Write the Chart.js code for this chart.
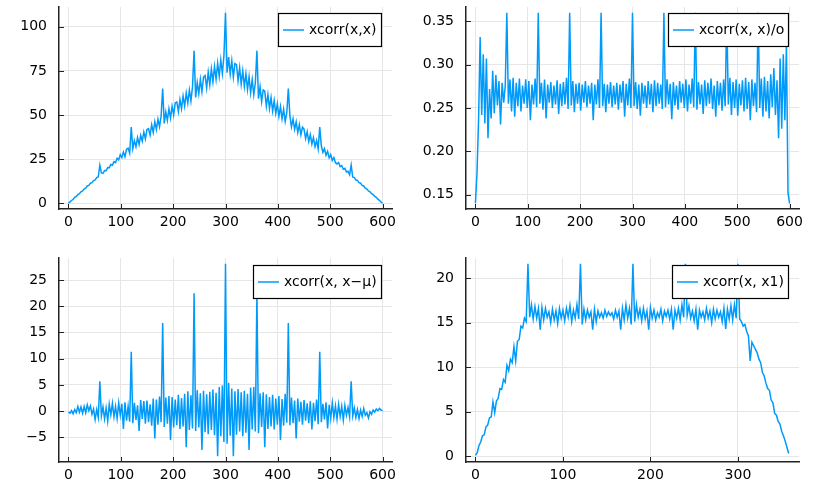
<!DOCTYPE html>
<html>
<head>
<meta charset="utf-8">
<script src="https://cdn.jsdelivr.net/npm/chart.js@4"></script>
<style>
  body { margin: 0; background: #fff; }
  #wrap { position: relative; width: 818px; height: 484px; }
  .panel { position: absolute; width: 409px; height: 242px; }
</style>
</head>
<body>
<div id="wrap">
  <div class="panel" style="left:0;top:0"><canvas id="c1" width="409" height="242"></canvas></div>
  <div class="panel" style="left:409px;top:0"><canvas id="c2" width="409" height="242"></canvas></div>
  <div class="panel" style="left:0;top:242px"><canvas id="c3" width="409" height="242"></canvas></div>
  <div class="panel" style="left:409px;top:242px"><canvas id="c4" width="409" height="242"></canvas></div>
</div>
<script>
// lags: 0..600 sampled every 3, and 0..358 every 2
const lags600 = Array.from({ length: 201 }, (_, i) => i * 3);
const lags360 = Array.from({ length: 180 }, (_, i) => i * 2);

const xcorrXX = [
  0, 0.8, 1.6, 2.3, 3.4, 3.9, 4.9, 5.4, 6.5, 7.0,
  8.1, 8.6, 9.8, 10.1, 11.4, 11.7, 12.9, 13.2, 14.6, 14.9,
  21.6, 17.2, 17.0, 18.6, 18.5, 20.2, 20.1, 22.0, 21.6, 23.6,
  23.0, 25.6, 24.6, 27.5, 25.9, 29.0, 26.4, 30.6, 31.2, 28.4,
  43.2, 31.0, 35.5, 32.1, 37.3, 33.4, 38.5, 35.2, 40.4, 36.5,
  41.8, 42.3, 38.6, 44.5, 40.2, 46.3, 41.8, 47.6, 43.4, 49.3,
  65.0, 45.3, 51.8, 47.0, 53.6, 48.3, 55.0, 50.1, 56.9, 57.4,
  52.0, 58.8, 53.6, 60.7, 55.1, 62.5, 56.8, 64.2, 58.0, 66.1,
  86.5, 60.0, 68.4, 62.1, 70.2, 63.3, 71.5, 72.4, 65.4, 74.3,
  67.2, 76.2, 68.9, 77.6, 70.3, 79.4, 72.0, 81.3, 73.5, 83.6,
  108.0, 74.0, 82.9, 73.2, 80.8, 71.5, 79.2, 78.6, 69.4, 76.8,
  67.5, 75.0, 66.2, 73.4, 64.5, 71.8, 62.6, 70.1, 61.5, 68.3,
  86.5, 59.3, 66.0, 57.6, 64.2, 63.5, 55.0, 61.6, 53.8, 59.9,
  52.3, 58.2, 51.0, 56.4, 49.2, 54.8, 47.9, 53.3, 46.4, 51.2,
  65.0, 49.4, 43.3, 47.8, 41.9, 46.2, 40.1, 44.6, 38.8, 43.1,
  42.0, 36.7, 40.6, 35.0, 38.9, 33.6, 37.2, 32.1, 35.6, 30.8,
  43.2, 32.6, 28.9, 31.0, 27.2, 29.4, 25.8, 27.6, 24.3, 25.9,
  23.0, 22.3, 23.1, 20.8, 21.4, 19.3, 19.8, 17.7, 18.1, 16.2,
  21.6, 14.8, 14.7, 13.2, 13.0, 11.7, 11.4, 10.1, 9.8, 8.6,
  8.1, 7.0, 6.5, 5.4, 4.9, 3.9, 3.4, 2.3, 1.7, 0.7,
  0
];

const xcorrNorm = [
  0.140, 0.175, 0.236, 0.332, 0.242, 0.312, 0.232, 0.307, 0.215, 0.272,
  0.238, 0.293, 0.244, 0.288, 0.253, 0.281, 0.231, 0.279, 0.256, 0.276,
  0.360, 0.255, 0.283, 0.246, 0.285, 0.240, 0.279, 0.252, 0.284, 0.246,
  0.276, 0.255, 0.283, 0.250, 0.281, 0.236, 0.277, 0.254, 0.284, 0.251,
  0.360, 0.255, 0.279, 0.248, 0.283, 0.238, 0.277, 0.256, 0.280, 0.250,
  0.276, 0.254, 0.282, 0.243, 0.278, 0.252, 0.280, 0.254, 0.285, 0.249,
  0.360, 0.253, 0.281, 0.245, 0.278, 0.255, 0.279, 0.247, 0.277, 0.256,
  0.281, 0.251, 0.276, 0.255, 0.279, 0.236, 0.277, 0.254, 0.283, 0.250,
  0.360, 0.252, 0.278, 0.245, 0.277, 0.255, 0.280, 0.251, 0.276, 0.254,
  0.279, 0.248, 0.277, 0.256, 0.281, 0.240, 0.278, 0.253, 0.284, 0.250,
  0.360, 0.252, 0.280, 0.249, 0.277, 0.241, 0.279, 0.255, 0.276, 0.250,
  0.281, 0.254, 0.278, 0.245, 0.282, 0.252, 0.279, 0.255, 0.277, 0.249,
  0.360, 0.251, 0.283, 0.254, 0.278, 0.237, 0.280, 0.253, 0.276, 0.248,
  0.281, 0.256, 0.278, 0.250, 0.283, 0.246, 0.277, 0.255, 0.284, 0.251,
  0.360, 0.248, 0.280, 0.254, 0.277, 0.243, 0.282, 0.252, 0.279, 0.255,
  0.284, 0.249, 0.276, 0.240, 0.281, 0.253, 0.279, 0.247, 0.283, 0.252,
  0.360, 0.254, 0.285, 0.242, 0.280, 0.250, 0.283, 0.241, 0.278, 0.253,
  0.282, 0.246, 0.285, 0.249, 0.280, 0.236, 0.283, 0.252, 0.279, 0.245,
  0.360, 0.250, 0.284, 0.240, 0.286, 0.246, 0.281, 0.238, 0.289, 0.251,
  0.296, 0.242, 0.282, 0.215, 0.307, 0.226, 0.312, 0.236, 0.322, 0.152,
  0.140
];

const xcorrDemean = [
  -0.2, -0.4, 0.1, -0.5, 0.3, -0.3, 0.9, -0.2, 0.8, -0.4,
  0.9, -0.3, 1.2, 0.1, 1.0, -0.6, 0.4, -1.6, 0.3, -1.2,
  5.7, -0.9, 0.8, -1.5, 0.6, -1.9, 1.3, -0.7, 1.5, -1.1,
  0.9, -1.4, 1.6, -0.8, 1.4, -3.4, 1.7, -1.8, 0.9, -2.0,
  11.3, -2.3, 1.6, -1.7, 1.1, -3.8, 2.1, -1.5, 1.9, -2.4,
  2.0, -2.1, 1.3, -2.8, 2.4, -5.2, 2.2, -2.6, 2.8, -2.1,
  16.8, -3.0, 2.6, -2.4, 2.9, -5.5, 2.7, -3.1, 2.2, -2.7,
  3.1, -3.4, 2.5, -2.9, 3.3, -6.9, 3.8, -3.6, 3.0, -3.3,
  22.5, -3.8, 4.0, -3.1, 3.4, -7.4, 3.9, -4.0, 3.2, -4.4,
  3.7, -3.6, 4.1, -4.6, 3.5, -8.6, 4.6, -4.8, 4.9, -5.9,
  28.1, -6.2, 5.4, -4.7, 4.3, -8.6, 3.8, -4.5, 4.2, -3.9,
  3.6, -4.8, 3.9, -4.1, 3.3, -7.4, 4.5, -3.5, 4.6, -3.9,
  22.5, -4.2, 3.4, -3.0, 3.6, -6.9, 3.2, -3.4, 2.7, -2.9,
  3.1, -3.5, 2.4, -2.6, 2.9, -5.5, 2.3, -2.8, 3.3, -2.2,
  16.8, -2.7, 2.6, -2.3, 2.0, -5.2, 2.4, -2.0, 1.8, -2.6,
  2.1, -1.8, 1.5, -2.3, 1.9, -3.5, 1.6, -1.9, 2.2, -2.5,
  11.3, -2.1, 1.4, -1.6, 1.7, -3.3, 1.2, -1.4, 1.6, -1.2,
  1.0, -1.5, 1.3, -1.0, 0.9, -1.7, 1.1, -0.8, 0.7, -1.1,
  5.7, -0.9, 0.6, -1.2, 0.3, -1.4, 0.2, -1.0, 0.5, -0.8,
  -0.3, -1.3, -0.1, -0.6, 0.2, -0.2, 0.4, 0.1, 0.5, 0.2,
  0.1
];

const xcorrX1 = [
  0.1, 0.4, 1.2, 1.6, 2.3, 2.4, 3.3, 3.5, 4.3, 4.4,
  6.1, 4.9, 6.2, 6.5, 7.6, 7.5, 8.6, 8.3, 10.2, 9.6,
  10.9, 10.5, 12.3, 10.7, 12.9, 13.1, 14.6, 14.4, 15.5, 15.1,
  21.6, 15.6, 17.0, 15.4, 16.8, 15.5, 16.6, 14.2, 16.7, 15.3,
  16.6, 15.6, 16.2, 15.0, 16.5, 15.3, 16.3, 14.9, 16.6, 15.5,
  16.4, 15.2, 16.6, 15.6, 16.9, 15.1, 16.4, 15.5, 17.0, 15.4,
  21.6, 14.8, 16.5, 15.3, 16.4, 15.6, 16.2, 14.2, 16.5, 15.1,
  16.3, 15.6, 16.1, 15.5, 16.4, 15.7, 16.2, 15.8, 16.1, 15.4,
  16.4, 15.6, 16.3, 14.2, 16.6, 15.3, 17.0, 15.5, 16.6, 14.8,
  21.6, 15.1, 17.0, 15.6, 16.5, 15.2, 16.6, 15.4, 16.3, 14.2,
  16.7, 15.5, 16.4, 15.3, 16.1, 15.6, 16.5, 15.2, 16.3, 15.7,
  16.4, 15.4, 16.5, 14.2, 16.4, 15.5, 16.6, 15.3, 17.0, 15.6,
  21.6, 15.8, 16.9, 15.5, 16.3, 15.2, 16.5, 14.2, 16.4, 15.6,
  16.2, 15.3, 16.6, 15.5, 16.3, 15.0, 16.5, 15.4, 16.4, 15.6,
  16.2, 15.1, 16.6, 14.3, 16.5, 15.4, 16.9, 15.3, 17.0, 15.5,
  21.6, 15.4, 15.1, 14.6, 14.8, 14.0, 13.5, 10.7, 12.8, 12.4,
  12.0, 11.6, 10.9, 10.5, 9.4, 9.0, 8.2, 7.6, 7.4, 6.3,
  6.0, 4.8, 4.6, 3.9, 3.6, 2.8, 2.3, 1.7, 1.0, 0.3
];

const ticks600 = [0, 100, 200, 300, 400, 500, 600];
const ticks360 = [0, 100, 200, 300];
const yTicks1 = [0, 25, 50, 75, 100];
const yTicks2 = [0.15, 0.20, 0.25, 0.30, 0.35];
const yLabels2 = ['0.15', '0.20', '0.25', '0.30', '0.35'];
const yTicks3 = [-5, 0, 5, 10, 15, 20, 25];
const yLabels3 = ['\u22125', '0', '5', '10', '15', '20', '25'];
const yTicks4 = [0, 5, 10, 15, 20];

const blue = '#009AFA';
Chart.defaults.font.family = '"DejaVu Sans", sans-serif';
Chart.defaults.font.size = 14;
Chart.defaults.color = '#000';

function makePanel(id, p) {
    const W = 409, H = 242;
    const a = p.area;
    const innerTicks = {
        id: 'innerTicks',
        afterDraw(chart) {
            const { ctx, chartArea, scales } = chart;
            ctx.save();
            ctx.strokeStyle = '#222';
            ctx.lineWidth = 1;
            ctx.beginPath();
            p.xTicks.forEach(v => {
                const px = Math.round(scales.x.getPixelForValue(v)) + 0.5;
                ctx.moveTo(px, chartArea.bottom);
                ctx.lineTo(px, chartArea.bottom - 5);
            });
            p.yTicks.forEach(v => {
                const py = Math.round(scales.y.getPixelForValue(v)) + 0.5;
                ctx.moveTo(chartArea.left, py);
                ctx.lineTo(chartArea.left + 5, py);
            });
            ctx.stroke();
            ctx.restore();
        }
    };
    const boxLegend = {
        id: 'boxLegend',
        afterDraw(chart) {
            const { ctx, chartArea } = chart;
            ctx.save();
            ctx.font = '14px "DejaVu Sans", sans-serif';
            const tw = ctx.measureText(p.label).width;
            const w = Math.round(5 + 21 + 5 + tw + 4), h = 33;
            const x = Math.round(chartArea.right - 11 - w), y = Math.round(chartArea.top + p.legendDy);
            ctx.fillStyle = '#fff';
            ctx.fillRect(x, y, w, h);
            ctx.strokeStyle = '#000';
            ctx.lineWidth = 1.2;
            ctx.strokeRect(x + 0.5, y + 0.5, w, h);
            ctx.strokeStyle = blue;
            ctx.lineWidth = 1.5;
            ctx.beginPath();
            ctx.moveTo(x + 5, y + h / 2 + 0.5);
            ctx.lineTo(x + 26, y + h / 2 + 0.5);
            ctx.stroke();
            ctx.fillStyle = '#000';
            ctx.textBaseline = 'middle';
            ctx.fillText(p.label, x + 31, y + h / 2 + 1);
            ctx.restore();
        }
    };
    return new Chart(document.getElementById(id), {
        type: 'line',
        data: {
            datasets: [{
                data: p.xs.map((x, i) => ({ x: x, y: p.ys[i] })),
                borderColor: blue,
                borderWidth: 1.5,
                pointRadius: 0,
                tension: 0,
                fill: false
            }]
        },
        options: {
            responsive: false,
            animation: false,
            events: [],
            layout: { padding: { left: 0, top: a.t, right: W - a.r, bottom: 0 } },
            plugins: { legend: { display: false }, tooltip: { enabled: false } },
            scales: {
                x: {
                    type: 'linear',
                    min: p.xMin,
                    max: p.xMax,
                    afterBuildTicks: s => { s.ticks = p.xTicks.map(v => ({ value: v })); },
                    afterFit: s => { s.height = H - a.b; s.paddingLeft = 0; s.paddingRight = 0; },
                    grid: { color: '#e6e6e6', drawTicks: false },
                    border: { color: '#222', width: 1.5 },
                    ticks: { padding: 5, maxRotation: 0, autoSkip: false, callback: v => String(v) }
                },
                y: {
                    type: 'linear',
                    min: p.yMin,
                    max: p.yMax,
                    afterBuildTicks: s => { s.ticks = p.yTicks.map(v => ({ value: v })); },
                    afterFit: s => { s.width = a.l; s.paddingTop = 0; s.paddingBottom = 0; },
                    grid: { color: '#e6e6e6', drawTicks: false },
                    border: { color: '#222', width: 1.5 },
                    ticks: { padding: 12, autoSkip: false, callback: (v, i) => p.yLabels ? p.yLabels[i] : String(v) }
                }
            }
        },
        plugins: [innerTicks, boxLegend]
    });
}

makePanel('c1', {
    xs: lags600, ys: xcorrXX, label: 'xcorr(x,x)', legendDy: 6,
    xMin: -18, xMax: 618, xTicks: ticks600,
    yMin: -3.24, yMax: 111.24, yTicks: yTicks1,
    area: { l: 59, t: 7, r: 392, b: 209 }
});
makePanel('c2', {
    xs: lags600, ys: xcorrNorm, label: 'xcorr(x, x)/o', legendDy: 6,
    xMin: -18, xMax: 618, xTicks: ticks600,
    yMin: 0.1334, yMax: 0.3666, yTicks: yTicks2, yLabels: yLabels2,
    area: { l: 57, t: 7, r: 390, b: 209 }
});
makePanel('c3', {
    xs: lags600, ys: xcorrDemean, label: 'xcorr(x, x\u2212\u03bc)', legendDy: 7,
    xMin: -18, xMax: 618, xTicks: ticks600,
    yMin: -9.7, yMax: 29.2, yTicks: yTicks3, yLabels: yLabels3,
    area: { l: 59, t: 16, r: 392, b: 220 }
});
makePanel('c4', {
    xs: lags360, ys: xcorrX1, label: 'xcorr(x, x1)', legendDy: 7,
    xMin: -10.8, xMax: 369.8, xTicks: ticks360,
    yMin: -0.65, yMax: 22.25, yTicks: yTicks4,
    area: { l: 57, t: 16, r: 390, b: 220 }
});
</script>
</body>
</html>
